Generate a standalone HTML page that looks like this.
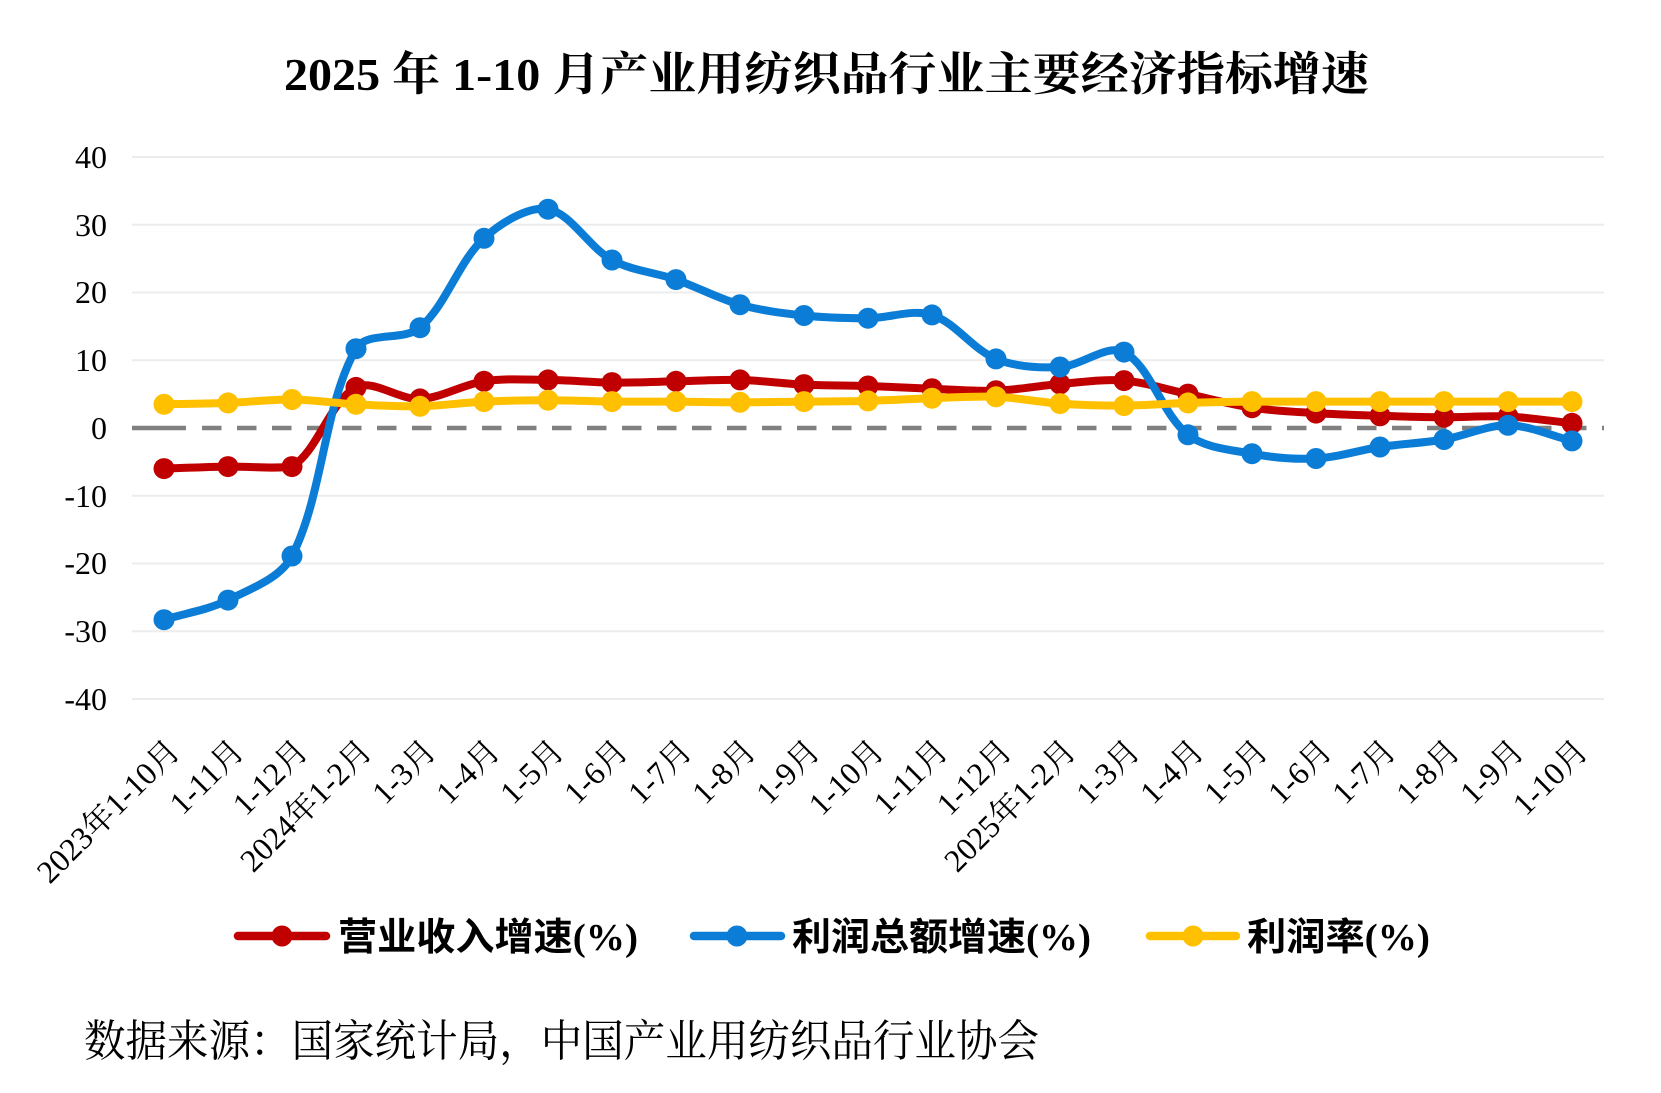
<!DOCTYPE html>
<html>
<head>
<meta charset="utf-8">
<style>
html,body{margin:0;padding:0;background:#fff;}
svg{display:block;}
</style>
</head>
<body>
<svg width="1661" height="1093" viewBox="0 0 1661 1093" xmlns="http://www.w3.org/2000/svg">
<rect x="0" y="0" width="1661" height="1093" fill="#ffffff"/>

<!-- Title -->
<text x="284" y="90" font-family="'Liberation Serif','Noto Serif CJK SC',serif" font-size="46" font-weight="bold" fill="#000" textLength="1085" lengthAdjust="spacingAndGlyphs">2025 年 1-10 月产业用纺织品行业主要经济指标增速</text>

<!-- Gridlines -->
<g stroke="#ececec" stroke-width="2">
<line x1="132" y1="157" x2="1604" y2="157"/>
<line x1="132" y1="224.75" x2="1604" y2="224.75"/>
<line x1="132" y1="292.5" x2="1604" y2="292.5"/>
<line x1="132" y1="360.25" x2="1604" y2="360.25"/>
<line x1="132" y1="495.75" x2="1604" y2="495.75"/>
<line x1="132" y1="563.5" x2="1604" y2="563.5"/>
<line x1="132" y1="631.25" x2="1604" y2="631.25"/>
<line x1="132" y1="699" x2="1604" y2="699"/>
</g>
<!-- zero dashed line -->
<line x1="132" y1="428" x2="186" y2="428" stroke="#808080" stroke-width="4.5"/>
<line x1="202" y1="428" x2="1604" y2="428" stroke="#808080" stroke-width="4.5" stroke-dasharray="19.5 15.5"/>

<!-- Y axis labels -->
<g font-family="'Liberation Serif',serif" font-size="32" fill="#000" text-anchor="end">
<text x="107" y="168">40</text>
<text x="107" y="236">30</text>
<text x="107" y="303">20</text>
<text x="107" y="371">10</text>
<text x="107" y="439">0</text>
<text x="107" y="507">-10</text>
<text x="107" y="574">-20</text>
<text x="107" y="642">-30</text>
<text x="107" y="710">-40</text>
</g>

<!-- X axis labels -->
<g font-family="'Liberation Serif','Noto Serif CJK SC',serif" font-size="32" fill="#000" text-anchor="end">
<text x="174" y="745" dy="0.35em" transform="rotate(-45 174 745)">2023年1-10月</text>
<text x="238" y="745" dy="0.35em" transform="rotate(-45 238 745)">1-11月</text>
<text x="302" y="745" dy="0.35em" transform="rotate(-45 302 745)">1-12月</text>
<text x="366" y="745" dy="0.35em" transform="rotate(-45 366 745)">2024年1-2月</text>
<text x="430" y="745" dy="0.35em" transform="rotate(-45 430 745)">1-3月</text>
<text x="494" y="745" dy="0.35em" transform="rotate(-45 494 745)">1-4月</text>
<text x="558" y="745" dy="0.35em" transform="rotate(-45 558 745)">1-5月</text>
<text x="622" y="745" dy="0.35em" transform="rotate(-45 622 745)">1-6月</text>
<text x="686" y="745" dy="0.35em" transform="rotate(-45 686 745)">1-7月</text>
<text x="750" y="745" dy="0.35em" transform="rotate(-45 750 745)">1-8月</text>
<text x="814" y="745" dy="0.35em" transform="rotate(-45 814 745)">1-9月</text>
<text x="878" y="745" dy="0.35em" transform="rotate(-45 878 745)">1-10月</text>
<text x="942" y="745" dy="0.35em" transform="rotate(-45 942 745)">1-11月</text>
<text x="1006" y="745" dy="0.35em" transform="rotate(-45 1006 745)">1-12月</text>
<text x="1070" y="745" dy="0.35em" transform="rotate(-45 1070 745)">2025年1-2月</text>
<text x="1134" y="745" dy="0.35em" transform="rotate(-45 1134 745)">1-3月</text>
<text x="1198" y="745" dy="0.35em" transform="rotate(-45 1198 745)">1-4月</text>
<text x="1262" y="745" dy="0.35em" transform="rotate(-45 1262 745)">1-5月</text>
<text x="1326" y="745" dy="0.35em" transform="rotate(-45 1326 745)">1-6月</text>
<text x="1390" y="745" dy="0.35em" transform="rotate(-45 1390 745)">1-7月</text>
<text x="1454" y="745" dy="0.35em" transform="rotate(-45 1454 745)">1-8月</text>
<text x="1518" y="745" dy="0.35em" transform="rotate(-45 1518 745)">1-9月</text>
<text x="1582" y="745" dy="0.35em" transform="rotate(-45 1582 745)">1-10月</text>
</g>

<!-- Red series: 营业收入增速 -->
<path fill="none" stroke="#C00000" stroke-width="8" stroke-linejoin="round" stroke-linecap="round" d="M164,468.6 C185.3,467.9 206.7,466.9 228,466.6 C249.3,466.3 275.5,469 292,466.6 C318.2,450.4 330,401.2 356,387.4 C372.6,378.6 398.9,399.9 420,398.9 C441.6,397.9 462.7,384.5 484,381.3 C505.3,378.1 526.7,379.7 548,379.9 C569.3,380.1 590.7,382.4 612,382.6 C633.3,382.8 654.7,381.8 676,381.3 C697.3,380.9 718.7,379.4 740,379.9 C761.3,380.5 782.7,383.6 804,384.6 C825.3,385.6 846.7,385.3 868,386 C889.3,386.7 910.7,387.9 932,388.7 C953.3,389.5 974.7,391.5 996,390.7 C1017.3,389.9 1038.7,385.7 1060,384 C1081.3,382.3 1102.7,378.9 1124,380.6 C1145.3,382.3 1166.7,389.6 1188,394.1 C1209.3,398.6 1230.7,404.5 1252,407.7 C1273.3,410.9 1294.7,411.8 1316,413.1 C1337.3,414.5 1358.7,415.1 1380,415.8 C1401.3,416.5 1422.7,417.1 1444,417.2 C1465.3,417.3 1486.7,415.5 1508,416.5 C1529.3,417.5 1550.7,421 1572,423.3"/>
<g fill="#C00000">
<circle cx="164" cy="468.6" r="10.5"/><circle cx="228" cy="466.6" r="10.5"/><circle cx="292" cy="466.6" r="10.5"/><circle cx="356" cy="387.4" r="10.5"/><circle cx="420" cy="398.9" r="10.5"/><circle cx="484" cy="381.3" r="10.5"/><circle cx="548" cy="379.9" r="10.5"/><circle cx="612" cy="382.6" r="10.5"/><circle cx="676" cy="381.3" r="10.5"/><circle cx="740" cy="379.9" r="10.5"/><circle cx="804" cy="384.6" r="10.5"/><circle cx="868" cy="386" r="10.5"/><circle cx="932" cy="388.7" r="10.5"/><circle cx="996" cy="390.7" r="10.5"/><circle cx="1060" cy="384" r="10.5"/><circle cx="1124" cy="380.6" r="10.5"/><circle cx="1188" cy="394.1" r="10.5"/><circle cx="1252" cy="407.7" r="10.5"/><circle cx="1316" cy="413.1" r="10.5"/><circle cx="1380" cy="415.8" r="10.5"/><circle cx="1444" cy="417.2" r="10.5"/><circle cx="1508" cy="416.5" r="10.5"/><circle cx="1572" cy="423.3" r="10.5"/>
</g>

<!-- Blue series: 利润总额增速 -->
<path fill="none" stroke="#0B7DD6" stroke-width="8" stroke-linejoin="round" stroke-linecap="round" d="M164,619.7 C185.3,613.2 208.3,609.9 228,600.1 C250.9,588.7 280.7,578.1 292,556 C323.4,494.3 323.4,406.8 356,348.7 C366.1,330.7 403.8,341.7 420,327.7 C446.4,304.9 458,262.4 484,238.3 C500.6,222.9 528.3,205.9 548,209.2 C570.9,213.1 588.5,247.1 612,260 C631.2,270.6 654.9,272.2 676,279.6 C697.6,287.1 718.1,298.5 740,304.7 C760.7,310.5 782.5,313.2 804,315.5 C825.2,317.7 846.7,318.3 868,318.2 C889.3,318.1 912.7,308.8 932,314.9 C955.4,322.3 972.7,349.4 996,358.9 C1015.4,366.8 1038.9,368.1 1060,367 C1081.5,365.9 1107.5,343.4 1124,352.1 C1150.2,366 1162,414.1 1188,434.8 C1204.6,448 1230.3,449.7 1252,453.7 C1272.9,457.6 1294.8,459.6 1316,458.5 C1337.5,457.4 1358.6,450.2 1380,447 C1401.2,443.8 1422.9,443.1 1444,439.5 C1465.5,435.8 1486.7,425.1 1508,425.3 C1529.4,425.5 1550.7,435.7 1572,440.9"/>
<g fill="#0B7DD6">
<circle cx="164" cy="619.7" r="10.5"/><circle cx="228" cy="600.1" r="10.5"/><circle cx="292" cy="556" r="10.5"/><circle cx="356" cy="348.7" r="10.5"/><circle cx="420" cy="327.7" r="10.5"/><circle cx="484" cy="238.3" r="10.5"/><circle cx="548" cy="209.2" r="10.5"/><circle cx="612" cy="260" r="10.5"/><circle cx="676" cy="279.6" r="10.5"/><circle cx="740" cy="304.7" r="10.5"/><circle cx="804" cy="315.5" r="10.5"/><circle cx="868" cy="318.2" r="10.5"/><circle cx="932" cy="314.9" r="10.5"/><circle cx="996" cy="358.9" r="10.5"/><circle cx="1060" cy="367" r="10.5"/><circle cx="1124" cy="352.1" r="10.5"/><circle cx="1188" cy="434.8" r="10.5"/><circle cx="1252" cy="453.7" r="10.5"/><circle cx="1316" cy="458.5" r="10.5"/><circle cx="1380" cy="447" r="10.5"/><circle cx="1444" cy="439.5" r="10.5"/><circle cx="1508" cy="425.3" r="10.5"/><circle cx="1572" cy="440.9" r="10.5"/>
</g>

<!-- Yellow series: 利润率 -->
<path fill="none" stroke="#FFC000" stroke-width="8" stroke-linejoin="round" stroke-linecap="round" d="M164,404.3 C185.3,403.8 206.7,403.7 228,402.9 C249.3,402.1 270.7,399.3 292,399.5 C313.3,399.7 334.7,403.2 356,404.3 C377.3,405.4 398.7,406.8 420,406.3 C441.3,405.9 462.7,402.6 484,401.6 C505.3,400.6 526.7,400.2 548,400.2 C569.3,400.2 590.7,401.4 612,401.6 C633.3,401.8 654.7,401.5 676,401.6 C697.3,401.7 718.7,402.3 740,402.3 C761.3,402.3 782.7,401.8 804,401.6 C825.3,401.4 846.7,401.5 868,400.9 C889.3,400.3 910.7,398.9 932,398.2 C953.3,397.5 974.7,395.9 996,396.8 C1017.3,397.7 1038.7,402.1 1060,403.6 C1081.3,405.1 1102.7,405.7 1124,405.6 C1145.3,405.5 1166.7,403.6 1188,402.9 C1209.3,402.2 1230.7,401.6 1252,401.6 L1572,401.6"/>
<g fill="#FFC000">
<circle cx="164" cy="404.3" r="10.5"/><circle cx="228" cy="402.9" r="10.5"/><circle cx="292" cy="399.5" r="10.5"/><circle cx="356" cy="404.3" r="10.5"/><circle cx="420" cy="406.3" r="10.5"/><circle cx="484" cy="401.6" r="10.5"/><circle cx="548" cy="400.2" r="10.5"/><circle cx="612" cy="401.6" r="10.5"/><circle cx="676" cy="401.6" r="10.5"/><circle cx="740" cy="402.3" r="10.5"/><circle cx="804" cy="401.6" r="10.5"/><circle cx="868" cy="400.9" r="10.5"/><circle cx="932" cy="398.2" r="10.5"/><circle cx="996" cy="396.8" r="10.5"/><circle cx="1060" cy="403.6" r="10.5"/><circle cx="1124" cy="405.6" r="10.5"/><circle cx="1188" cy="402.9" r="10.5"/><circle cx="1252" cy="401.6" r="10.5"/><circle cx="1316" cy="401.6" r="10.5"/><circle cx="1380" cy="401.6" r="10.5"/><circle cx="1444" cy="401.6" r="10.5"/><circle cx="1508" cy="401.6" r="10.5"/><circle cx="1572" cy="401.6" r="10.5"/>
</g>

<!-- Legend -->
<g stroke-width="8.5" stroke-linecap="round">
<line x1="238" y1="936" x2="326" y2="936" stroke="#C00000"/>
<line x1="694" y1="936" x2="781" y2="936" stroke="#0B7DD6"/>
<line x1="1150" y1="936" x2="1236" y2="936" stroke="#FFC000"/>
</g>
<circle cx="282" cy="936" r="10.5" fill="#C00000"/>
<circle cx="737" cy="936" r="10.5" fill="#0B7DD6"/>
<circle cx="1193" cy="936" r="10.5" fill="#FFC000"/>
<g font-family="'Liberation Serif','Noto Sans CJK SC',sans-serif" font-size="38" font-weight="bold" fill="#000">
<text x="338" y="950" textLength="300" lengthAdjust="spacingAndGlyphs">营业收入增速(%)</text>
<text x="792" y="950" textLength="299" lengthAdjust="spacingAndGlyphs">利润总额增速(%)</text>
<text x="1247" y="950" textLength="183" lengthAdjust="spacingAndGlyphs">利润率(%)</text>
</g>

<!-- Source -->
<text x="84" y="1056" font-family="'Liberation Serif','Noto Serif CJK SC',serif" font-size="44" fill="#000" textLength="955" lengthAdjust="spacingAndGlyphs">数据来源：国家统计局，中国产业用纺织品行业协会</text>
</svg>
</body>
</html>
